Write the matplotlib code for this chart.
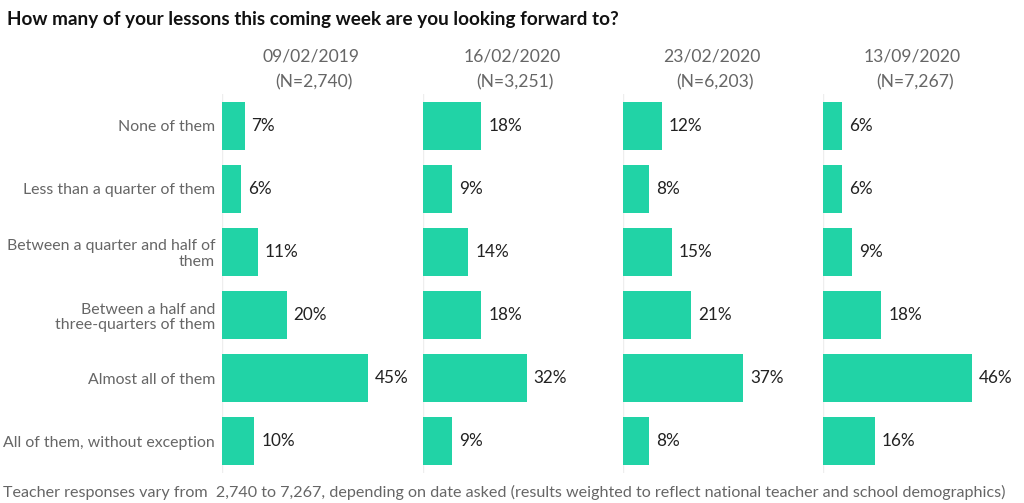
import matplotlib.pyplot as plt

plt.rcParams['font.family'] = ['Lato', 'DejaVu Sans']

categories = ['None of them', 'Less than a quarter of them',
              'Between a quarter and half of\nthem',
              'Between a half and\nthree-quarters of them',
              'Almost all of them', 'All of them, without exception']
dates = ['09/02/2019', '16/02/2020', '23/02/2020', '13/09/2020']
sizes = ['(N=2,740)', '(N=3,251)', '(N=6,203)', '(N=7,267)']
values = [
    [7, 6, 11, 20, 45, 10],
    [18, 9, 14, 18, 32, 9],
    [12, 8, 15, 21, 37, 8],
    [6, 6, 9, 18, 46, 16],
]

W, H = 1024, 503
fig = plt.figure(figsize=(W / 100, H / 100), dpi=100)
bar_color = '#21d3a6'
grey = '#666666'

lefts = [222, 423, 623, 823]
top, bottom = 94.5, 472.5
pw = 200
for i, left in enumerate(lefts):
    ax = fig.add_axes([left / W, 1 - bottom / H, pw / W, (bottom - top) / H])
    y = range(len(categories))
    ax.barh(y, values[i], height=0.76, color=bar_color, zorder=2)
    ax.set_xlim(0, pw / 3.24)
    ax.set_ylim(len(categories) - 0.5, -0.5)
    ax.axvline(0, color='#eeeeee', lw=1, zorder=1)
    for s in ax.spines.values():
        s.set_visible(False)
    ax.set_xticks([])
    ax.tick_params(axis='y', length=0, pad=5)
    if i == 0:
        ax.set_yticks(list(y))
        ax.set_yticklabels(categories, fontsize=11.4, color=grey, linespacing=1.1)
    else:
        ax.set_yticks([])
    for j, v in enumerate(values[i]):
        ax.annotate(f'{v}%', (v, j), xytext=(5, 0), textcoords='offset points',
                    va='center', ha='left', fontsize=12.3, color='#222222')
    fig.text((left + 89) / W, 1 - 57 / H, dates[i], ha='center', va='center',
             fontsize=12.6, color=grey)
    fig.text((left + 92) / W, 1 - 82 / H, sizes[i], ha='center', va='center',
             fontsize=12.6, color=grey)

fig.text(7 / W, 1 - 20 / H, 'How many of your lessons this coming week are you looking forward to?',
         ha='left', va='center', fontsize=13.6, fontweight='bold', color='#111111')
fig.text(3 / W, 1 - 492 / H,
         'Teacher responses vary from  2,740 to 7,267, depending on date asked '
         '(results weighted to reflect national teacher and school demographics)',
         ha='left', va='center', fontsize=11.6, color=grey)

fig.savefig('out.png', dpi=100)
